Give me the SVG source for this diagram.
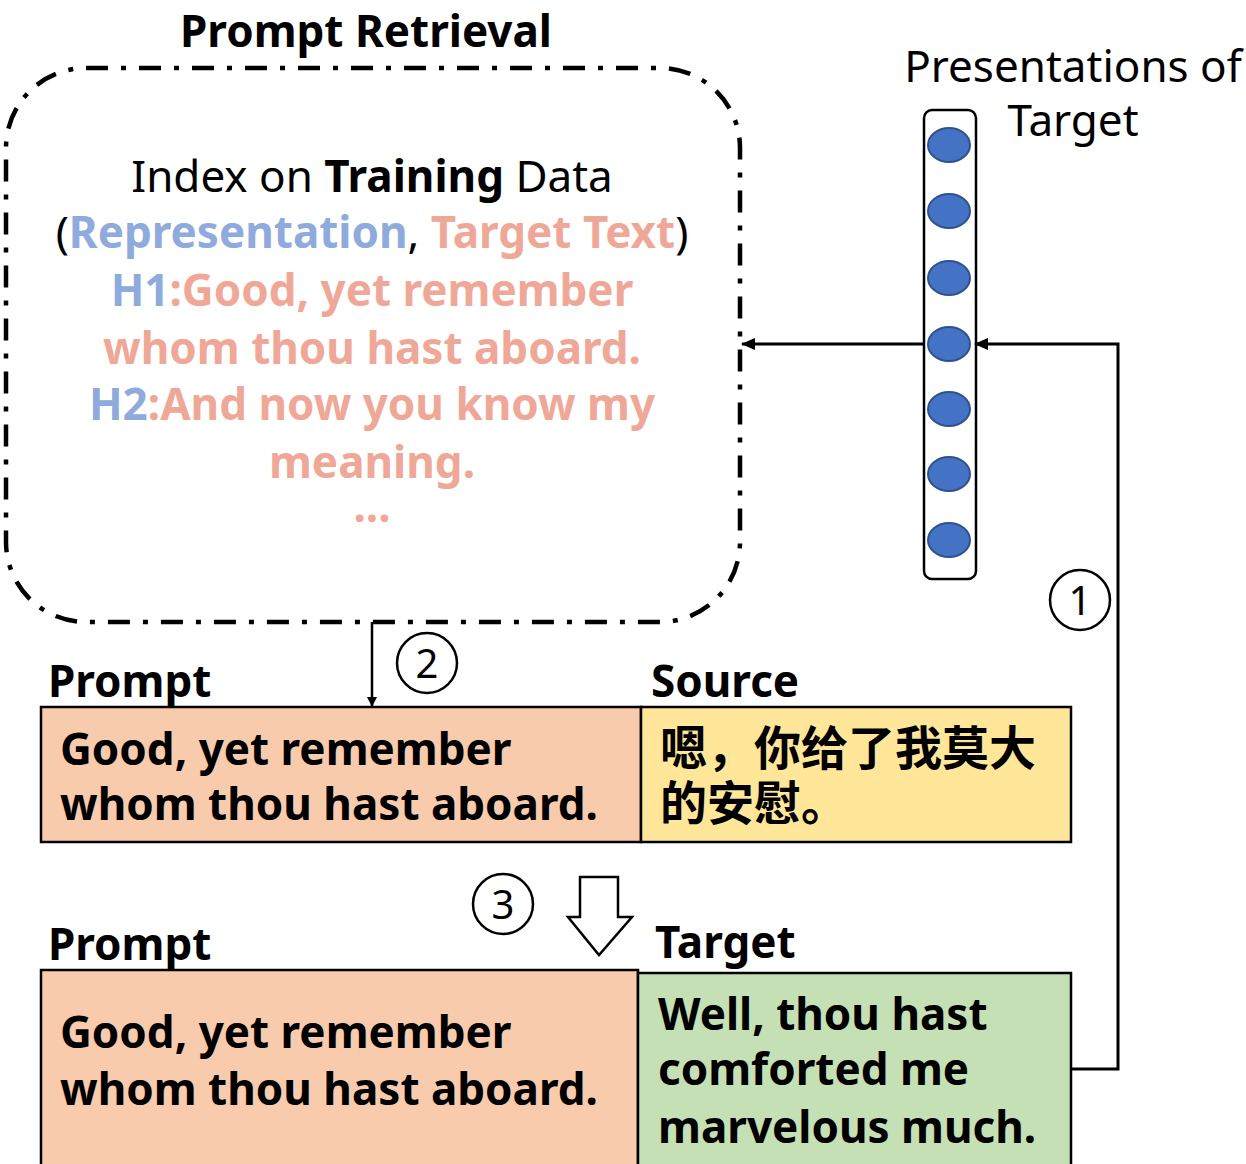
<svg xmlns="http://www.w3.org/2000/svg" width="1246" height="1164" viewBox="0 0 1246 1164">
<style>
text{font-family:"Noto Sans","Liberation Sans",sans-serif;}
.t{font-size:44px;}
.b{font-weight:bold;}
.blue{fill:#8FAADC;font-weight:bold;}
.pink{fill:#EFA898;font-weight:bold;}
.ln{stroke:#000;stroke-width:3;fill:none;}
.dot{fill:#4472C4;stroke:#2F528F;stroke-width:2;}
.cir{fill:#fff;stroke:#000;stroke-width:2.5;}
.num{font-size:40px;text-anchor:middle;}
.box{stroke:#000;stroke-width:2.5;}
.cjk{font-family:"Noto Sans CJK SC",sans-serif;font-weight:bold;font-size:47px;}
</style>
<defs>
<marker id="ah" markerWidth="10" markerHeight="10" refX="9" refY="5" orient="auto" markerUnits="userSpaceOnUse" viewBox="0 0 10 10">
<path d="M0,0 L10,5 L0,10 z" fill="#000"/>
</marker>
<marker id="ah2" markerWidth="14" markerHeight="12" refX="13" refY="6" orient="auto" markerUnits="userSpaceOnUse" viewBox="0 0 14 12">
<path d="M0,0 L14,6 L0,12 z" fill="#000"/>
</marker>
</defs>

<g id="retrieval">
<text x="366" y="47" class="t b" text-anchor="middle">Prompt Retrieval</text>
<rect x="6" y="68" width="734" height="554" rx="80" ry="80" fill="none" stroke="#000" stroke-width="4.5" stroke-dasharray="22,13,5,13"/>
<g text-anchor="middle" class="t">
<text x="372" y="192">Index on <tspan class="b">Training</tspan> Data</text>
<text x="372" y="248">(<tspan class="blue">Representation</tspan>, <tspan class="pink">Target Text</tspan>)</text>
<text x="372" y="306"><tspan class="blue">H1</tspan><tspan class="pink">:Good, yet remember</tspan></text>
<text x="372" y="364" class="pink">whom thou hast aboard.</text>
<text x="372" y="420"><tspan class="blue">H2</tspan><tspan class="pink">:And now you know my</tspan></text>
<text x="372" y="478" class="pink">meaning.</text>
<text x="372" y="522" class="pink">...</text>
</g>
</g>

<g id="vector">
<text x="1073" y="82" class="t" text-anchor="middle">Presentations of</text>
<text x="1073" y="136" class="t" text-anchor="middle">Target</text>
<rect x="924" y="110" width="52" height="469" rx="8" ry="8" fill="none" stroke="#000" stroke-width="2.5"/>
<ellipse class="dot" cx="949" cy="145" rx="21" ry="17"/>
<ellipse class="dot" cx="949" cy="211" rx="21" ry="17"/>
<ellipse class="dot" cx="949" cy="278" rx="21" ry="17"/>
<ellipse class="dot" cx="949" cy="344" rx="21" ry="17"/>
<ellipse class="dot" cx="949" cy="409" rx="21" ry="17"/>
<ellipse class="dot" cx="949" cy="474" rx="21" ry="17"/>
<ellipse class="dot" cx="949" cy="540" rx="21" ry="17"/>
</g>

<g id="source-row">
<text x="48" y="697" class="t b">Prompt</text>
<text x="651" y="697" class="t b">Source</text>
<rect x="41" y="707" width="600" height="135" fill="#F8CBAD" class="box"/>
<rect x="641" y="707" width="430" height="135" fill="#FFE699" class="box"/>
<text x="60" y="765" class="t b">Good, yet remember</text>
<text x="60" y="820" class="t b">whom thou hast aboard.</text>
<text x="660" y="765" class="cjk">嗯，你给了我莫大</text>
<text x="660" y="820" class="cjk">的安慰。</text>
</g>

<g id="target-row">
<text x="48" y="960" class="t b">Prompt</text>
<text x="655" y="958" class="t b">Target</text>
<rect x="41" y="970" width="597" height="200" fill="#F8CBAD" class="box"/>
<rect x="638" y="973" width="433" height="200" fill="#C5E0B4" class="box"/>
<text x="60" y="1048" class="t b">Good, yet remember</text>
<text x="60" y="1105" class="t b">whom thou hast aboard.</text>
<text x="658" y="1030" class="t b">Well, thou hast</text>
<text x="658" y="1085" class="t b">comforted me</text>
<text x="658" y="1143" class="t b">marvelous much.</text>
</g>

<g id="connectors">
<line x1="924" y1="344" x2="742" y2="344" class="ln" marker-end="url(#ah2)"/>
<polyline points="1072,1069 1118,1069 1118,344 975,344" class="ln" marker-end="url(#ah2)"/>
<line x1="372" y1="622" x2="372" y2="706" stroke="#000" stroke-width="2.5" marker-end="url(#ah)"/>
<path d="M580,877 L618,877 L618,917 L632,917 L599,955 L568,917 L580,917 Z" fill="#fff" stroke="#000" stroke-width="2.5"/>
</g>

<g id="labels">
<circle cx="1080" cy="600" r="30" class="cir"/>
<text x="1080" y="615" class="num">1</text>
<circle cx="427" cy="663" r="30" class="cir"/>
<text x="427" y="678" class="num">2</text>
<circle cx="503" cy="904" r="30" class="cir"/>
<text x="503" y="919" class="num">3</text>
</g>
</svg>
